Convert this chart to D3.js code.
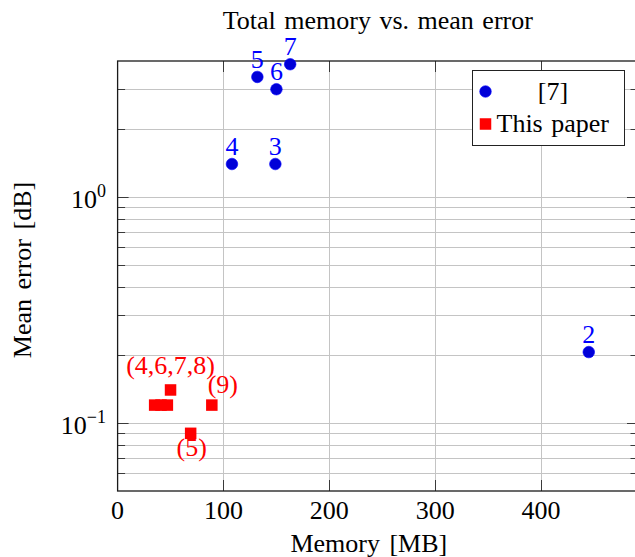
<!DOCTYPE html>
<html>
<head>
<meta charset="utf-8">
<script src="https://cdn.jsdelivr.net/npm/d3@7"></script>
<style>
  html, body { margin: 0; padding: 0; background: #fff; }
  svg { display: block; font-family: "Liberation Serif", "Times New Roman", serif; }
</style>
</head>
<body>
<svg id="chart" width="635" height="557"></svg>
<script>
// ---- data ----
const title = "Total memory vs. mean error";
const xLabel = "Memory [MB]";
const yLabel = "Mean error [dB]";
const xTicks = [0, 100, 200, 300, 400];
const yMajorTicks = [0.1, 1];
const yMajorTickLabels = [["10", "\u22121"], ["10", "0"]];

const refName = "[7]";
const refMemory = [445, 149, 108, 132, 150, 163];
const refError = [0.206, 1.4, 1.4, 3.4, 3.0, 3.87];
const refLabels = ["2", "3", "4", "5", "6", "7"];

const oursName = "This paper";
const oursMemory = [35, 41, 47, 50, 89, 69];
const oursError = [0.12, 0.12, 0.12, 0.14, 0.12, 0.09];
const oursLabels = ["", "", "", "(4,6,7,8)", "(9)", "(5)"];

// ---- layout ----
const pLeft = 117.6, pRight = 638, pTop = 61, pBottom = 491;
const blue = "#0000ff", blueFill = "#0000d8", red = "#ff0000";
const fontSize = 26;

const svg = d3.select("#chart");
const x = d3.scaleLinear().domain([0, 491.5]).range([pLeft, pRight]);
const y = d3.scaleLog().domain([0.05, 4]).range([pBottom, pTop]);

// grid
const gGrid = svg.append("g").attr("stroke", "#c4c4c4").attr("stroke-width", 1).attr("fill", "none");
const yGrid = y.ticks().filter(v => v > 0.0501 && v < 3.99);
gGrid.selectAll("line.hy").data(yGrid).join("line")
  .attr("x1", pLeft).attr("x2", pRight)
  .attr("y1", d => Math.round(y(d)) + 0.5).attr("y2", d => Math.round(y(d)) + 0.5);
gGrid.selectAll("line.vx").data(xTicks.filter(v => v > 0)).join("line")
  .attr("y1", pTop).attr("y2", pBottom)
  .attr("x1", d => Math.round(x(d)) + 0.5).attr("x2", d => Math.round(x(d)) + 0.5);

// ticks (inward, mirrored)
const gTicks = svg.append("g").attr("stroke", "#3a3a3a").attr("stroke-width", 1);
const isMajor = v => yMajorTicks.some(m => Math.abs(m - v) < 1e-9);
gTicks.append("g").selectAll("line").data(yGrid).join("line")
  .attr("x1", pLeft).attr("x2", d => pLeft + (isMajor(d) ? 11 : 7.5))
  .attr("y1", d => Math.round(y(d)) + 0.5).attr("y2", d => Math.round(y(d)) + 0.5);
gTicks.append("g").selectAll("line").data(yGrid).join("line")
  .attr("x1", pRight).attr("x2", d => pRight - (isMajor(d) ? 11 : 7.5))
  .attr("y1", d => Math.round(y(d)) + 0.5).attr("y2", d => Math.round(y(d)) + 0.5);
gTicks.append("g").selectAll("line").data(xTicks.filter(v => v > 0)).join("line")
  .attr("y1", pBottom).attr("y2", pBottom - 11)
  .attr("x1", d => Math.round(x(d)) + 0.5).attr("x2", d => Math.round(x(d)) + 0.5);
gTicks.append("g").selectAll("line").data(xTicks.filter(v => v > 0)).join("line")
  .attr("y1", pTop).attr("y2", pTop + 11)
  .attr("x1", d => Math.round(x(d)) + 0.5).attr("x2", d => Math.round(x(d)) + 0.5);

// frame
svg.append("rect").attr("x", pLeft).attr("y", pTop).attr("width", pRight - pLeft).attr("height", pBottom - pTop)
  .attr("fill", "none").attr("stroke", "#1a1a1a").attr("stroke-width", 1.3);

// x tick labels
svg.append("g").selectAll("text").data(xTicks).join("text")
  .attr("x", d => x(d)).attr("y", 518.5)
  .attr("text-anchor", "middle").attr("font-size", fontSize).attr("fill", "#000")
  .text(d => d);

// y tick labels (10^k)
const yl = svg.append("g").selectAll("text").data(yMajorTicks).join("text")
  .attr("x", 106).attr("y", d => y(d) + 11)
  .attr("text-anchor", "end").attr("font-size", fontSize).attr("fill", "#000");
yl.append("tspan").text((d, i) => yMajorTickLabels[i][0]);
yl.append("tspan").attr("font-size", 18).attr("dy", -11).text((d, i) => yMajorTickLabels[i][1]);

// axis titles
svg.append("text").attr("x", (pLeft + pRight) / 2).attr("y", 29)
  .attr("text-anchor", "middle").attr("font-size", fontSize).attr("word-spacing", 2).text(title);
svg.append("text").attr("x", (pLeft + pRight) / 2 - 9).attr("y", 552)
  .attr("text-anchor", "middle").attr("font-size", fontSize).attr("word-spacing", 3).text(xLabel);
svg.append("text").attr("transform", "translate(31,270) rotate(-90)")
  .attr("text-anchor", "middle").attr("font-size", fontSize).attr("word-spacing", 3).text(yLabel);

// reference points
const refData = refMemory.map((m, i) => ({ m, e: refError[i], l: refLabels[i] }));
svg.append("g").selectAll("circle").data(refData).join("circle")
  .attr("cx", d => x(d.m)).attr("cy", d => y(d.e)).attr("r", 5.8)
  .attr("fill", blueFill).attr("stroke", blue).attr("stroke-width", 0.6);
svg.append("g").selectAll("text").data(refData).join("text")
  .attr("x", d => x(d.m)).attr("y", d => y(d.e) - 9)
  .attr("text-anchor", "middle").attr("font-size", fontSize).attr("fill", blue)
  .text(d => d.l);

// our points
const ourData = oursMemory.map((m, i) => ({ m, e: oursError[i], l: oursLabels[i] }));
const sq = 11.5;
svg.append("g").selectAll("rect").data(ourData).join("rect")
  .attr("x", d => x(d.m) - sq / 2).attr("y", d => y(d.e) - sq / 2)
  .attr("width", sq).attr("height", sq).attr("fill", red);
const placement = { "(4,6,7,8)": { dx: 0, dy: -15.5 }, "(9)": { dx: 11, dy: -12 }, "(5)": { dx: 1, dy: 22.5 } };
svg.append("g").selectAll("text").data(ourData.filter(d => d.l)).join("text")
  .attr("x", d => x(d.m) + placement[d.l].dx).attr("y", d => y(d.e) + placement[d.l].dy)
  .attr("text-anchor", "middle").attr("font-size", fontSize).attr("fill", red)
  .text(d => d.l);

// legend
const lg = svg.append("g");
lg.append("rect").attr("x", 472.5).attr("y", 70.5).attr("width", 152).attr("height", 75)
  .attr("fill", "#fff").attr("stroke", "#222").attr("stroke-width", 1);
lg.append("circle").attr("cx", 485.5).attr("cy", 91.5).attr("r", 5.8)
  .attr("fill", blueFill).attr("stroke", blue).attr("stroke-width", 0.6);
lg.append("text").attr("x", 553).attr("y", 100).attr("text-anchor", "middle")
  .attr("font-size", fontSize).text(refName);
lg.append("rect").attr("x", 485.5 - sq / 2).attr("y", 124 - sq / 2).attr("width", sq).attr("height", sq).attr("fill", red);
lg.append("text").attr("x", 496.5).attr("y", 132).attr("font-size", fontSize).attr("word-spacing", 2).text(oursName);
</script>
</body>
</html>
